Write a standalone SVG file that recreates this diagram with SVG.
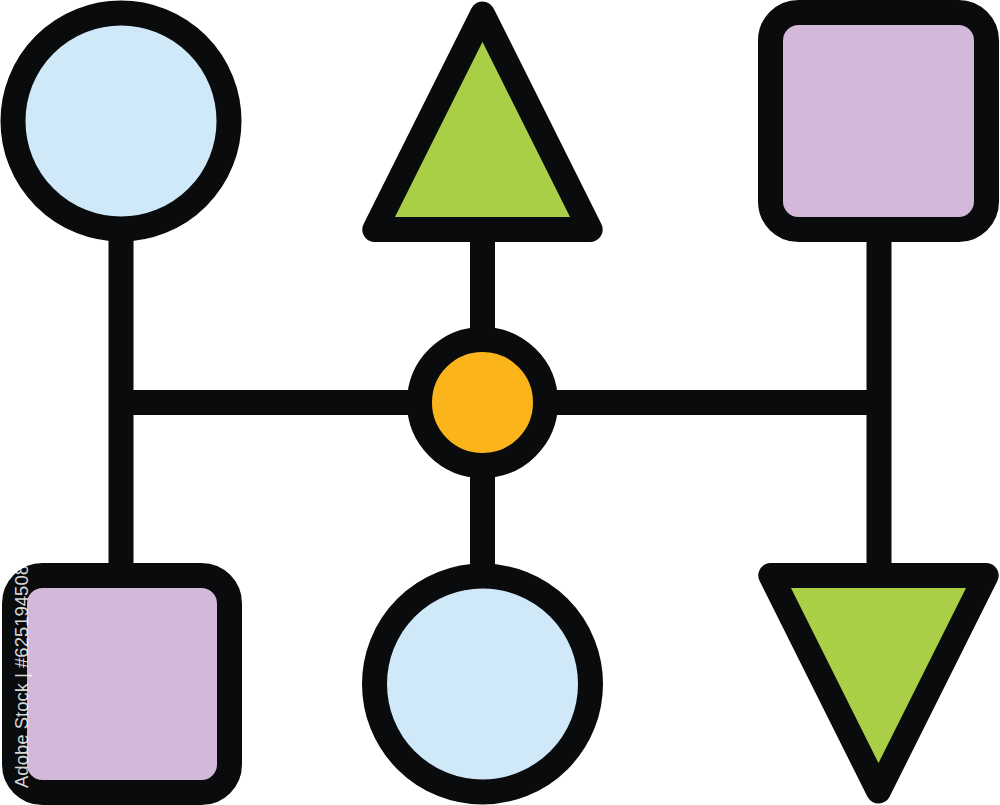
<svg xmlns="http://www.w3.org/2000/svg" width="1000" height="805" viewBox="0 0 1000 805">
  <style>
    .ln { stroke: #0a0b0d; stroke-width: 25; fill: none; stroke-linecap: butt; }
    .nd { stroke: #0a0b0d; stroke-width: 25; stroke-linejoin: round; }
    .blue { fill: #cfe9f9; }
    .lilac { fill: #d3b8d9; }
    .green { fill: #a8cf45; }
    .orange { fill: #fbb51b; }
    .wm { font-family: "Liberation Sans", Arial, sans-serif; font-size: 18px; fill: #ffffff; fill-opacity: 0.85; }
  </style>
  <rect width="1000" height="805" fill="#ffffff"/>
  <g id="connectors">
    <line class="ln" x1="121" y1="230" x2="121" y2="580"/>
    <line class="ln" x1="121" y1="402.5" x2="879" y2="402.5"/>
    <line class="ln" x1="879" y1="230" x2="879" y2="580"/>
    <line class="ln" x1="482.5" y1="230" x2="482.5" y2="580"/>
  </g>
  <g id="node-top-left-circle">
    <circle class="nd blue" cx="121" cy="121" r="108"/>
  </g>
  <g id="node-top-triangle">
    <polygon class="nd green" points="482.5,14 374.8,229.5 590.2,229.5"/>
  </g>
  <g id="node-top-right-square">
    <rect class="nd lilac" x="770.5" y="12.5" width="216" height="217" rx="28"/>
  </g>
  <g id="node-center-circle">
    <circle class="nd orange" cx="482.5" cy="402.5" r="63"/>
  </g>
  <g id="node-bottom-left-square">
    <rect class="nd lilac" x="14.5" y="575.5" width="215" height="217" rx="28"/>
  </g>
  <g id="node-bottom-circle">
    <circle class="nd blue" cx="482.5" cy="684" r="108"/>
  </g>
  <g id="node-bottom-right-triangle">
    <polygon class="nd green" points="878.5,791 770.8,575.5 986.2,575.5"/>
  </g>
  <text class="wm" transform="translate(28,788) rotate(-90)" textLength="223" lengthAdjust="spacingAndGlyphs">Adobe Stock | #625194508</text>
</svg>
